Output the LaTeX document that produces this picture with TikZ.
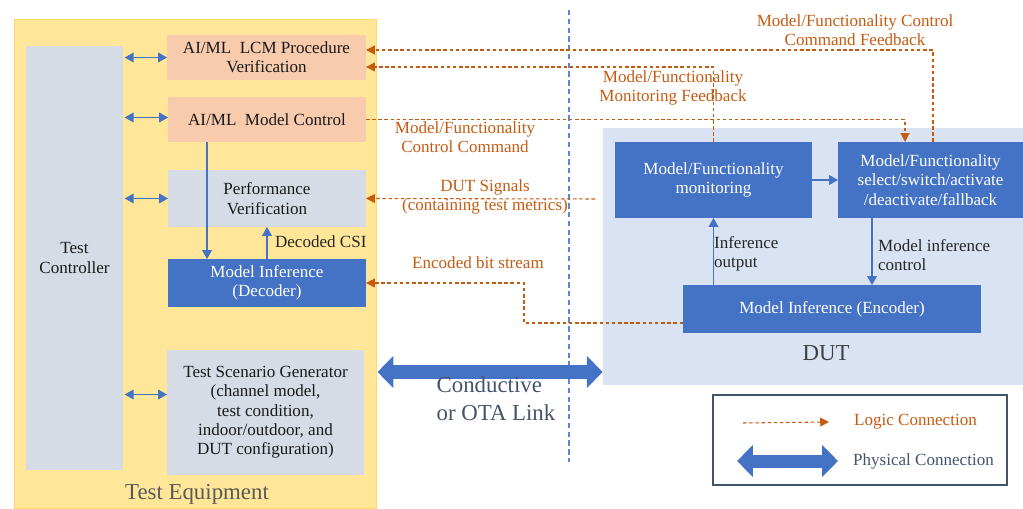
\documentclass[tikz,border=0pt]{standalone}
\usepackage{fontspec}
\setmainfont{Liberation Serif}
\usepackage{xcolor}
\usepackage{tikz}
\usetikzlibrary{arrows.meta,positioning,calc}
\definecolor{cEquip}{HTML}{FFE699}
\definecolor{cEquipLine}{HTML}{FFD966}
\definecolor{cPeach}{HTML}{F8CBAD}
\definecolor{cGrey}{HTML}{D6DCE5}
\definecolor{cBlue}{HTML}{4472C4}
\definecolor{cDut}{HTML}{DAE3F3}
\definecolor{cOrange}{HTML}{C55A11}
\definecolor{cSlate}{HTML}{44546A}

\begin{document}
\begin{tikzpicture}[
    x=0.02cm, y=-0.02cm,
    txt/.style={font=\fontsize{9.7}{11}\selectfont, align=center},
    big/.style={font=\fontsize{13}{16}\selectfont, align=left},
    box/.style={rectangle, inner sep=0pt, outer sep=0pt, txt},
    proc/.style={box, fill=cPeach, text=black!90},
    stage/.style={box, fill=cGrey, text=black!90},
    infer/.style={box, fill=cBlue, text=white},
    note/.style={txt, text=cOrange},
    tag/.style={txt, align=left, text=black!85, inner sep=1pt},
    link/.style={draw=cBlue, line width=0.7pt, shorten <=1pt,
                 {Triangle[length=5pt,width=5.5pt]}-{Triangle[length=5pt,width=5.5pt]}},
    flow/.style={draw=cBlue, line width=0.7pt, -{Triangle[length=5pt,width=5.5pt]}},
    logic/.style={draw=cOrange, line width=0.6pt, dash pattern=on 2pt off 1.5pt,
                  -{Triangle[length=5pt,width=5pt]}},
    phys/.style={draw=cBlue, line width=7.4pt,
                 {Triangle[length=9pt,width=17.6pt]}-{Triangle[length=9pt,width=17.6pt]}},
]
    \useasboundingbox (0,0) rectangle (1023,509);

    % Regions
    \node[rectangle, fill=cEquip, draw=cEquipLine, line width=0.6pt,
          minimum width=7.26cm, minimum height=9.8cm] (equip) at (195.5,264) {};
    \node[rectangle, fill=cDut, minimum width=8.4cm, minimum height=5.14cm] (dut) at (813,256.5) {};
    \node[big, text=black!65] (eqname) at (197,494) {Test Equipment};
    \node[big, text=black!75] (dutname) at (826,353) {DUT};

    % Test equipment blocks
    \node[stage, minimum width=1.94cm, minimum height=8.48cm] (tc) at (74.5,258) {Test\\Controller};
    \node[proc, minimum width=3.98cm, minimum height=0.9cm] (lcm) at (266.5,57.5) {AI/ML\ \ LCM Procedure\\Verification};
    \node[proc, minimum width=3.96cm, minimum height=0.9cm] (ctrl) at (267,119.5) {AI/ML\ \ Model Control};
    \node[stage, minimum width=3.96cm, minimum height=1.14cm] (perf) at (267,198.5) {Performance\\Verification};
    \node[infer, minimum width=3.96cm, minimum height=0.96cm] (dec) at (267,283) {Model Inference\\(Decoder)};
    \node[stage, minimum width=3.94cm, minimum height=2.5cm] (gen) at (265.5,412.5)
        {Test Scenario Generator\\(channel model,\\test condition,\\indoor/outdoor, and\\DUT configuration)};

    % DUT blocks
    \node[infer, minimum width=3.94cm, minimum height=1.52cm] (mon) at (713.5,180) {Model/Functionality\\monitoring};
    \node[infer, minimum width=3.7cm, minimum height=1.52cm] (sel) at (930.5,180)
        {Model/Functionality\\select/switch/activate\\/deactivate/fallback};
    \node[infer, minimum width=5.96cm, minimum height=0.96cm] (enc) at (832,309) {Model Inference (Encoder)};

    % Divider
    \draw[cBlue!85, line width=0.6pt, dash pattern=on 3pt off 2pt] (569,10) -- (569,462);

    % Controller links
    \draw[link] (tc.east |- lcm.west) -- (lcm.west);
    \draw[link] ($(tc.east |- ctrl.west)+(0,-2)$) -- ($(ctrl.west)+(0,-2)$);
    \draw[link] (tc.east |- perf.west) -- (perf.west);
    \draw[link] ($(tc.east |- gen.west)+(0,-18)$) -- ($(gen.west)+(0,-18)$);

    % Inner flows
    \draw[flow] ($(ctrl.south west)+(39,0)$) -- ($(dec.north west)+(39,0)$);
    \draw[flow] (dec.north) -- (perf.south);
    \node[tag, anchor=west] (csi) at (273,242) {Decoded CSI};
    \draw[flow] (mon) -- (sel);
    \draw[flow] (mon.south |- enc.north) -- (mon.south);
    \node[tag, anchor=west] (infout) at (712,254) {Inference\\output};
    \draw[flow] ($(sel.south west)+(34,0)$) -- ($(sel.south west |- enc.north)+(34,0)$);
    \node[tag, anchor=west] (infctl) at (876,255) {Model inference\\control};

    % Logic connections
    \draw[logic] ($(sel.north)+(2.5,0)$) |- ($(lcm.east)+(0,-7.5)$);
    \node[note] (fbctl) at (855,30) {Model/Functionality Control\\Command Feedback};
    \draw[logic] (mon.north) |- ($(lcm.east)+(0,9.5)$);
    \node[note] (fbmon) at (673,88) {Model/Functionality\\Monitoring Feedback};
    \draw[logic] (ctrl.east) -| ($(sel.north)+(-25.5,0)$);
    \node[note] (cmd) at (465,137) {Model/Functionality\\Control Command};
    \coordinate (sig) at (595,199);
    \draw[logic] (sig) -- (perf.east);
    \node[note] (dutsig) at (485,197) {DUT Signals\\(containing test metrics)};
    \draw[logic] ($(enc.west)+(0,14)$) -| ($(dec.east)+(158,0)$) -- (dec.east);
    \node[note] (bits) at (478,263) {Encoded bit stream};

    % Physical link
    \coordinate (ota) at (490,372);
    \draw[phys] (equip.east |- ota) -- (dut.west |- ota);
    \node[big, text=cSlate] (otaname) at (496,399) {Conductive\\or OTA Link};

    % Legend
    \node[rectangle, draw=cSlate, line width=0.8pt, fill=white,
          minimum width=5.88cm, minimum height=1.8cm] (legend) at (860,440) {};
    \node[note, anchor=west] (lglogic) at (848,422) {Logic Connection};
    \node[txt, anchor=west, text=cSlate] (lgphys) at (847,461) {Physical Connection};
    \coordinate (lga) at (743,423);
    \coordinate (lgb) at (737,461);
    \draw[logic] (lga) -- (lglogic.west -| 829,0);
    \draw[phys] (lgb) -- (lgphys.west -| 838,0);
\end{tikzpicture}
\end{document}
